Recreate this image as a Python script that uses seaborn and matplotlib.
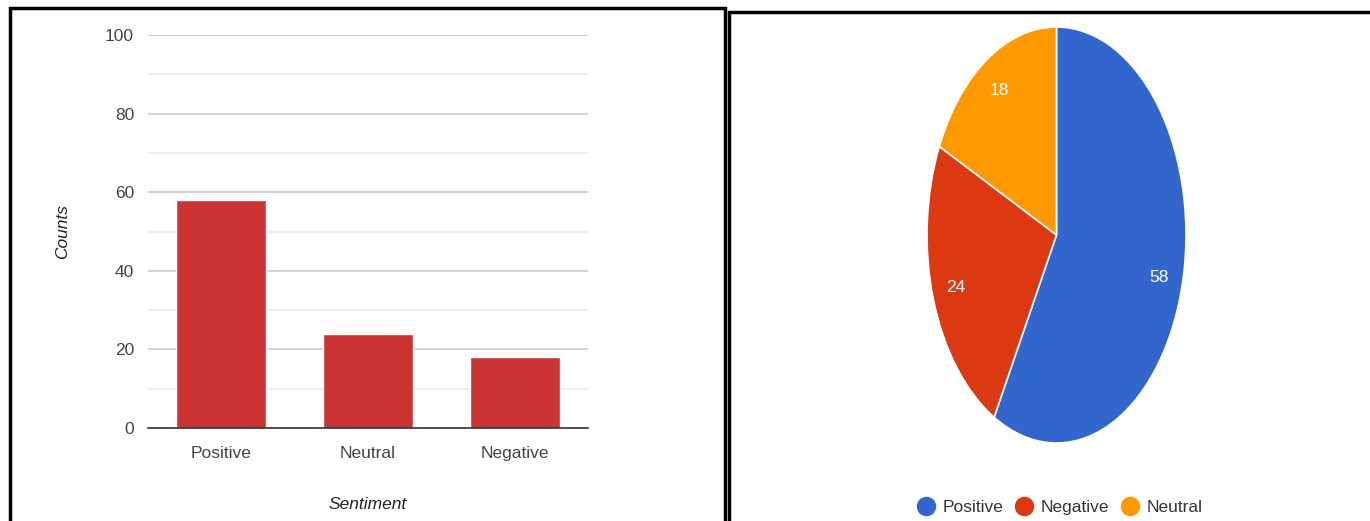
import matplotlib
matplotlib.use("Agg")
import matplotlib.pyplot as plt
import matplotlib.patches as mpatches
from matplotlib.lines import Line2D
import seaborn as sns
import pandas as pd

# data
bar_categories = ["Positive", "Neutral", "Negative"]
bar_counts = [58, 24, 18]
pie_labels = ["Positive", "Negative", "Neutral"]
pie_counts = [58, 24, 18]
pie_colors = ["#3366cc", "#dc3912", "#ff9900"]
y_ticks = [0, 20, 40, 60, 80, 100]

sns.set_style("white")
plt.rcParams["font.family"] = ["Liberation Sans Narrow", "Liberation Sans", "DejaVu Sans"]

W, H = 1370, 521
fig = plt.figure(figsize=(13.7, 5.21), dpi=100)
FS = 12.5

def px_axes(x0, y0, x1, y1):
    return fig.add_axes([x0 / W, 1 - y1 / H, (x1 - x0) / W, (y1 - y0) / H])

# panel borders
fig.patches.append(mpatches.Rectangle((10 / W, -0.02), 715 / W, 1 - 8 / H + 0.02,
                                      transform=fig.transFigure, fill=False,
                                      edgecolor="black", linewidth=2.5))
fig.patches.append(mpatches.Rectangle((729 / W, -0.02), 660 / W, 1 - 12 / H + 0.02,
                                      transform=fig.transFigure, fill=False,
                                      edgecolor="black", linewidth=2.5))

# bar chart
ax = px_axes(148, 35, 588, 428)
df = pd.DataFrame({"Sentiment": bar_categories, "Counts": bar_counts})
sns.barplot(data=df, x="Sentiment", y="Counts", color="#cc3333", saturation=1,
            width=0.615, ax=ax, zorder=3)
ax.set_ylim(0, 100)
ax.set_xlim(-0.5, 2.5)
ax.set_yticks(y_ticks)
ax.set_yticks(range(10, 100, 20), minor=True)
ax.grid(axis="y", which="major", color="#cccccc", linewidth=1.2, zorder=0)
ax.grid(axis="y", which="minor", color="#ebebeb", linewidth=1.2, zorder=0)
for s in ["top", "right", "left"]:
    ax.spines[s].set_visible(False)
ax.spines["bottom"].set_color("#333333")
ax.spines["bottom"].set_linewidth(1.2)
ax.spines["bottom"].set_zorder(4)
ax.tick_params(axis="both", which="both", length=0, labelsize=FS, labelcolor="#444444")
ax.tick_params(axis="y", pad=10)
ax.tick_params(axis="x", pad=13)
ax.set_xlabel("Sentiment", fontsize=FS, style="italic", color="#222222", labelpad=26)
ax.set_ylabel("Counts", fontsize=FS, style="italic", color="#222222", labelpad=25)

# pie chart
pax = px_axes(927, 27, 1186, 443)
wedges, texts, autotexts = pax.pie(pie_counts, colors=pie_colors, startangle=90,
                                   counterclock=False, radius=1,
                                   autopct=lambda p: f"{p * sum(pie_counts) / 100:.0f}",
                                   pctdistance=0.82,
                                   wedgeprops=dict(edgecolor="white", linewidth=1.2),
                                   textprops=dict(color="white", fontsize=FS))
pax.set_aspect("auto")
pax.set_xlim(-1, 1)
pax.set_ylim(-1, 1)

handles = [Line2D([], [], marker="o", linestyle="", markersize=13,
                  markerfacecolor=c, markeredgecolor=c) for c in pie_colors]
fig.legend(handles, pie_labels, loc="center", bbox_to_anchor=(1058 / W, 1 - 507 / H),
           ncol=3, frameon=False, fontsize=FS, handletextpad=0.25, columnspacing=0.5,
           handlelength=1.4, labelcolor="#333333")

fig.savefig("out.png", dpi=100)
